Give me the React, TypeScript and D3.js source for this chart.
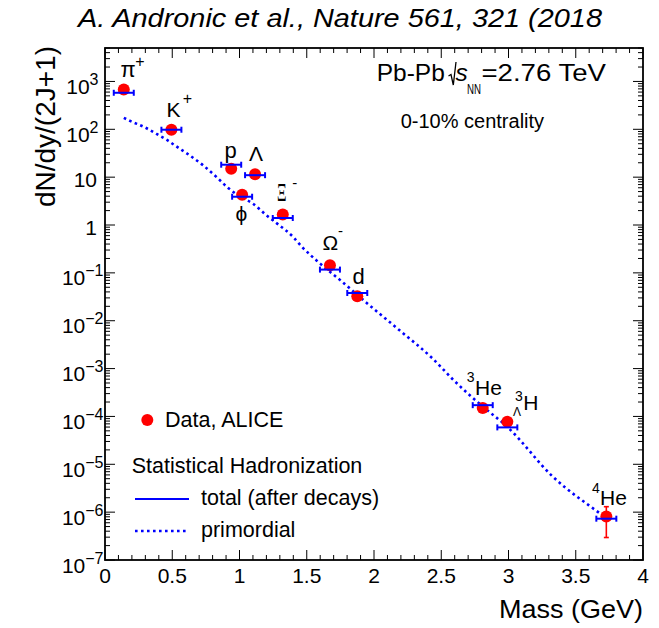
import React from "react";
import * as d3 from "d3";

// ---------- data ----------
const particles = ["pi+", "K+", "p", "phi", "Lambda", "Xi-", "Omega-", "d", "3He", "3LH", "4He"];
const masses = [0.1396, 0.4937, 0.9383, 1.0195, 1.1157, 1.3217, 1.6725, 1.8756, 2.8084, 2.9913, 3.7274];
const dataYield = [680, 98, 15, 4.3, 11.5, 1.65, 0.144, 0.0325, 1.5e-4, 7.7e-5, 8.1e-7];
const dataErrUp = [40, 6, 0.9, 0.4, 0.6, 0.12, 0.012, 0.003, 1.5e-5, 1.0e-5, 4.9e-7];
const dataErrDown = [40, 6, 0.9, 0.4, 0.6, 0.12, 0.012, 0.003, 1.5e-5, 1.0e-5, 5.15e-7];
const modelTotal = [580, 98, 18.2, 3.9, 11.0, 1.4, 0.117, 0.038, 1.72e-4, 5.9e-5, 7.3e-7];

const primordialMass = [0.14, 0.19, 0.29, 0.38, 0.46, 0.53, 0.63, 0.73, 0.83, 0.91, 0.99, 1.10, 1.20, 1.28, 1.40, 1.46, 1.60, 1.75, 1.95, 2.19, 2.44, 2.59, 2.81, 2.99, 3.33, 3.68, 3.73];
const primordialYield = [174, 148, 112, 81, 60, 44, 28.5, 17.6, 10.0, 6.15, 4.17, 2.8, 1.6, 1.07, 0.56, 0.36, 0.156, 0.070, 0.023, 0.0063, 0.00158, 5.8e-4, 1.6e-4, 6.1e-5, 5.5e-6, 9.4e-7, 7.4e-7];

const xTicks = [0, 0.5, 1, 1.5, 2, 2.5, 3, 3.5, 4];
const xTickLabels = ["0", "0.5", "1", "1.5", "2", "2.5", "3", "3.5", "4"];
const yExponents = [-7, -6, -5, -4, -3, -2, -1, 0, 1, 2, 3];

const titleText = "A. Andronic et al., Nature 561, 321 (2018";
const xTitle = "Mass (GeV)";
const yTitle = "dN/dy/(2J+1)";

// ---------- layout: label parts relative to each data point ----------
type Part = { t: string; dx: number; dy: number; fs: number; serif?: boolean; len?: number };
const labelParts: Part[][] = [
  [{ t: "π", dx: -3.3, dy: -12.5, fs: 22 }, { t: "+", dx: 11.5, dy: -22.5, fs: 16 }],
  [{ t: "K", dx: -5, dy: -13, fs: 21 }, { t: "+", dx: 11.3, dy: -25.5, fs: 16 }],
  [{ t: "p", dx: -6.7, dy: -10.7, fs: 22 }],
  [{ t: "ϕ", dx: -6.6, dy: 26, fs: 21 }],
  [{ t: "Λ", dx: -6, dy: -13.5, fs: 21 }],
  [{ t: "Ξ", dx: -5.8, dy: -13.6, fs: 25, serif: true, len: 9.5 }, { t: "-", dx: 9.5, dy: -26.6, fs: 15 }],
  [{ t: "Ω", dx: -7.5, dy: -15, fs: 21 }, { t: "-", dx: 8, dy: -29, fs: 15 }],
  [{ t: "d", dx: -4.8, dy: -12, fs: 22 }],
  [{ t: "3", dx: -16, dy: -26.3, fs: 14 }, { t: "He", dx: -7.7, dy: -13, fs: 21 }],
  [{ t: "3", dx: 7.7, dy: -21.2, fs: 14 }, { t: "Λ", dx: 5.7, dy: -5.9, fs: 12 }, { t: "H", dx: 16, dy: -11.9, fs: 21 }],
  [{ t: "4", dx: -14.3, dy: -23.2, fs: 14 }, { t: "He", dx: -6.3, dy: -11.5, fs: 21 }],
];

const W = 659, H = 628;
const L = 105, R = 643, T = 48, B = 560;
const BLUE = "#0000ff";
const RED = "#ff0000";
const FONT = "'Liberation Sans', Arial, Helvetica, sans-serif";
const SERIF = "'Liberation Serif', 'DejaVu Serif', serif";

export default function App() {
  const x = d3.scaleLinear().domain([0, 4]).range([L, R]);
  const y = d3.scaleLog().domain([1e-7, 5000]).range([B, T]);

  const xMinor = d3.range(0, 41, 1).map((i) => i / 10).filter((v) => Math.abs(v * 2 - Math.round(v * 2)) > 1e-6);
  const yMinor: number[] = [];
  for (let e = -7; e <= 3; e++) for (let k = 2; k <= 9; k++) {
    const v = k * Math.pow(10, e);
    if (v <= 5000) yMinor.push(v);
  }

  const line = d3.line<number>()
    .x((_, i) => x(primordialMass[i]))
    .y((v) => y(v))
    .curve(d3.curveMonotoneX);

  const majLen = 10, minLen = 5;

  return (
    <svg width={W} height={H} style={{ position: "absolute", left: 0, top: 0, background: "#fff" }} fontFamily={FONT}>
      <rect x={0} y={0} width={W} height={H} fill="#fff" />
      {/* title */}
      <text x={78} y={26.7} fontSize={25} fontStyle="italic" textLength={524} lengthAdjust="spacingAndGlyphs">{titleText}</text>

      {/* ticks */}
      <g stroke="#000" strokeWidth={1}>
        {xTicks.map((t) => (
          <g key={"xt" + t}>
            <line x1={x(t)} x2={x(t)} y1={B} y2={B - majLen} />
            <line x1={x(t)} x2={x(t)} y1={T} y2={T + majLen} />
          </g>
        ))}
        {xMinor.map((t) => (
          <g key={"xm" + t}>
            <line x1={x(t)} x2={x(t)} y1={B} y2={B - minLen} />
            <line x1={x(t)} x2={x(t)} y1={T} y2={T + minLen} />
          </g>
        ))}
        {yExponents.map((e) => {
          const yy = y(Math.pow(10, e));
          return (
            <g key={"yt" + e}>
              <line x1={L} x2={L + majLen} y1={yy} y2={yy} />
              <line x1={R} x2={R - majLen} y1={yy} y2={yy} />
            </g>
          );
        })}
        {yMinor.map((v, i) => (
          <g key={"ym" + i}>
            <line x1={L} x2={L + minLen} y1={y(v)} y2={y(v)} />
            <line x1={R} x2={R - minLen} y1={y(v)} y2={y(v)} />
          </g>
        ))}
      </g>

      {/* x tick labels */}
      {xTicks.map((t, i) => (
        <text key={"xl" + t} x={x(t)} y={582.7} fontSize={21} textAnchor="middle">{xTickLabels[i]}</text>
      ))}
      {/* y tick labels */}
      {yExponents.map((e) => {
        const yy = y(Math.pow(10, e));
        if (e === 0) return <text key={"yl" + e} x={97} y={yy + 10} fontSize={21} textAnchor="end">1</text>;
        if (e === 1) return <text key={"yl" + e} x={97} y={yy + 10} fontSize={21} textAnchor="end">10</text>;
        const exp = e < 0 ? "\u2212" + Math.abs(e) : String(e);
        return (
          <text key={"yl" + e} x={e < 0 ? 103.5 : 98.5} y={yy + 12.5} fontSize={21} textAnchor="end">
            10<tspan fontSize={16} dy={-9}>{exp}</tspan>
          </text>
        );
      })}

      {/* axis titles */}
      <text x={R} y={618.3} fontSize={25} textAnchor="end" textLength={144} lengthAdjust="spacingAndGlyphs">{xTitle}</text>
      <text transform={`translate(55,46) rotate(-90)`} fontSize={28} textAnchor="end">{yTitle}</text>

      {/* primordial dotted curve */}
      <path d={line(primordialYield) || ""} fill="none" stroke={BLUE} strokeWidth={2.6} strokeDasharray="2.6 3.4" />

      {/* data points */}
      {masses.map((m, i) => (
        <g key={"pt" + i}>
          <circle cx={x(m)} cy={y(dataYield[i])} r={6} fill={RED} />
          <g stroke={RED} strokeWidth={1.6}>
            <line x1={x(m)} x2={x(m)} y1={y(dataYield[i] + dataErrUp[i])} y2={y(dataYield[i] - dataErrDown[i])} />
            <line x1={x(m) - 2.5} x2={x(m) + 2.5} y1={y(dataYield[i] + dataErrUp[i])} y2={y(dataYield[i] + dataErrUp[i])} />
            <line x1={x(m) - 2.5} x2={x(m) + 2.5} y1={y(dataYield[i] - dataErrDown[i])} y2={y(dataYield[i] - dataErrDown[i])} />
          </g>
        </g>
      ))}

      {/* model total bars */}
      {masses.map((m, i) => {
        const yy = y(modelTotal[i]);
        const x0 = x(m) - 10, x1 = x(m) + 10;
        return (
          <g key={"mb" + i} stroke={BLUE} strokeWidth={2}>
            <line x1={x0} x2={x1} y1={yy} y2={yy} />
            <line x1={x0} x2={x0} y1={yy - 3} y2={yy + 3} />
            <line x1={x1} x2={x1} y1={yy - 3} y2={yy + 3} />
          </g>
        );
      })}

      {/* particle labels */}
      {particles.map((p, i) => {
        const px = x(masses[i]);
        const py = y(dataYield[i]);
        return (
          <g key={"lab" + p}>
            {labelParts[i].map((part, j) => (
              <text key={j} x={px + part.dx} y={py + part.dy} fontSize={part.fs}
                fontFamily={part.serif ? SERIF : undefined}
                textLength={part.len} lengthAdjust={part.len ? "spacingAndGlyphs" : undefined}>{part.t}</text>
            ))}
          </g>
        );
      })}

      {/* top-right text */}
      <text x={376.7} y={81} fontSize={24.5}>Pb-Pb</text>
      <path d="M448.5,76 L451,74.5 L453.3,85 L456,62" fill="none" stroke="#000" strokeWidth={1.3} />
      <text x={455.5} y={81} fontSize={24.5} fontStyle="italic">s</text>
      <text x={467} y={94} fontSize={14} textLength={14} lengthAdjust="spacingAndGlyphs">NN</text>
      <text x={481.5} y={81} fontSize={24.5} textLength={124.5} lengthAdjust="spacingAndGlyphs">=2.76 TeV</text>
      <text x={400.7} y={128.3} fontSize={20}>0-10% centrality</text>

      {/* legend */}
      <circle cx={147.3} cy={420} r={6} fill={RED} />
      <text x={165} y={427} fontSize={21.5}>Data, ALICE</text>
      <text x={131.7} y={473} fontSize={21.5}>Statistical Hadronization</text>
      <line x1={135} x2={189} y1={499} y2={499} stroke={BLUE} strokeWidth={2} />
      <text x={201} y={505} fontSize={21.5}>total (after decays)</text>
      <line x1={135} x2={188} y1={531} y2={531} stroke={BLUE} strokeWidth={2.6} strokeDasharray="2.6 3.4" />
      <text x={201} y={537} fontSize={21.5}>primordial</text>

      {/* frame */}
      <rect x={L} y={T} width={R - L} height={B - T} fill="none" stroke="#000" strokeWidth={1.8} />
    </svg>
  );
}
